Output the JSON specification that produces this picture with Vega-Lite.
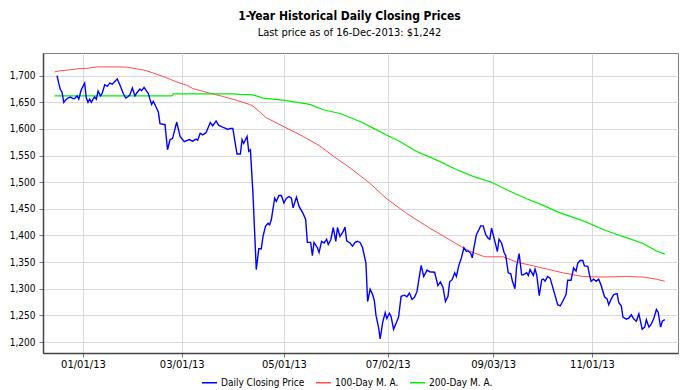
{
"$schema": "https://vega.github.io/schema/vega-lite/v6.json",
"width": 635, "height": 300,
"autosize": {"type": "none"},
"padding": {"left": 43, "top": 53, "right": 22, "bottom": 37},
"background": "white",
"title": {"text": "1-Year Historical Daily Closing Prices", "subtitle": "Last price as of 16-Dec-2013: $1,242", "font": "DejaVu Sans Condensed", "fontSize": 12, "fontWeight": "bold", "color": "#000", "subtitleFont": "DejaVu Sans Condensed", "subtitleFontSize": 11, "subtitleColor": "#000", "anchor": "middle", "dx": -11, "offset": 14, "subtitlePadding": 4},
"datasets": {
"close": [
{"d":"2012-12-16T12:00","p":1700},{"d":"2012-12-17T12:00","p":1686},{"d":"2012-12-18T12:00","p":1674},{"d":"2012-12-19T12:00","p":1669},{"d":"2012-12-20T12:00","p":1650},{"d":"2012-12-21T12:00","p":1654},{"d":"2012-12-23T00:00","p":1658},{"d":"2012-12-24T12:00","p":1660},{"d":"2012-12-26T00:00","p":1657},{"d":"2012-12-27T00:00","p":1657},{"d":"2012-12-28T12:00","p":1662},{"d":"2012-12-29T12:00","p":1656},{"d":"2012-12-31T00:00","p":1674},
{"d":"2013-01-01T00:00","p":1680},{"d":"2013-01-02T00:00","p":1686},{"d":"2013-01-03T00:00","p":1658},{"d":"2013-01-04T00:00","p":1650},{"d":"2013-01-05T00:00","p":1656},{"d":"2013-01-06T00:00","p":1650},{"d":"2013-01-07T00:00","p":1656},{"d":"2013-01-08T00:00","p":1660},{"d":"2013-01-09T00:00","p":1656},{"d":"2013-01-10T00:00","p":1671},{"d":"2013-01-11T12:00","p":1662},{"d":"2013-01-12T12:00","p":1667},{"d":"2013-01-14T00:00","p":1683},{"d":"2013-01-15T12:00","p":1680},{"d":"2013-01-17T00:00","p":1686},{"d":"2013-01-18T12:00","p":1684},{"d":"2013-01-20T00:00","p":1689},{"d":"2013-01-21T12:00","p":1694},{"d":"2013-01-23T00:00","p":1683},{"d":"2013-01-25T00:00","p":1667},{"d":"2013-01-26T12:00","p":1658},{"d":"2013-01-28T00:00","p":1661},{"d":"2013-01-29T00:00","p":1664},{"d":"2013-01-30T12:00","p":1677},
{"d":"2013-02-01T00:00","p":1662},{"d":"2013-02-02T00:00","p":1667},{"d":"2013-02-04T00:00","p":1675},{"d":"2013-02-05T00:00","p":1672},{"d":"2013-02-06T12:00","p":1678},{"d":"2013-02-08T00:00","p":1671},{"d":"2013-02-09T00:00","p":1667},{"d":"2013-02-10T00:00","p":1656},{"d":"2013-02-11T00:00","p":1646},{"d":"2013-02-12T00:00","p":1652},{"d":"2013-02-14T00:00","p":1639},{"d":"2013-02-15T00:00","p":1632},{"d":"2013-02-16T00:00","p":1610},{"d":"2013-02-19T00:00","p":1608},{"d":"2013-02-20T12:00","p":1561},{"d":"2013-02-22T00:00","p":1580},{"d":"2013-02-23T12:00","p":1582},{"d":"2013-02-26T00:00","p":1613},{"d":"2013-02-28T00:00","p":1586},
{"d":"2013-03-02T12:00","p":1576},{"d":"2013-03-05T12:00","p":1580},{"d":"2013-03-07T12:00","p":1577},{"d":"2013-03-09T12:00","p":1581},{"d":"2013-03-10T12:00","p":1579},{"d":"2013-03-12T00:00","p":1592},{"d":"2013-03-13T12:00","p":1589},{"d":"2013-03-15T12:00","p":1593},{"d":"2013-03-18T00:00","p":1612},{"d":"2013-03-19T12:00","p":1606},{"d":"2013-03-21T12:00","p":1615},{"d":"2013-03-23T00:00","p":1607},{"d":"2013-03-25T00:00","p":1604},{"d":"2013-03-26T12:00","p":1602},{"d":"2013-03-28T12:00","p":1599},{"d":"2013-03-30T00:00","p":1601},{"d":"2013-03-31T12:00","p":1601},
{"d":"2013-04-03T00:00","p":1553},{"d":"2013-04-05T00:00","p":1553},{"d":"2013-04-06T00:00","p":1580},{"d":"2013-04-07T00:00","p":1573},{"d":"2013-04-09T00:00","p":1586},{"d":"2013-04-10T00:00","p":1558},{"d":"2013-04-11T00:00","p":1561},{"d":"2013-04-12T12:00","p":1480},{"d":"2013-04-14T12:00","p":1336},{"d":"2013-04-16T00:00","p":1375},{"d":"2013-04-17T12:00","p":1375},{"d":"2013-04-18T12:00","p":1398},{"d":"2013-04-20T00:00","p":1417},{"d":"2013-04-21T12:00","p":1423},{"d":"2013-04-22T12:00","p":1420},{"d":"2013-04-23T12:00","p":1430},{"d":"2013-04-25T12:00","p":1470},{"d":"2013-04-26T12:00","p":1464},{"d":"2013-04-28T00:00","p":1475},{"d":"2013-04-29T12:00","p":1475},
{"d":"2013-05-01T00:00","p":1461},{"d":"2013-05-02T12:00","p":1470},{"d":"2013-05-04T00:00","p":1473},{"d":"2013-05-05T12:00","p":1470},{"d":"2013-05-06T12:00","p":1452},{"d":"2013-05-08T12:00","p":1472},{"d":"2013-05-10T00:00","p":1455},{"d":"2013-05-12T12:00","p":1441},{"d":"2013-05-14T00:00","p":1430},{"d":"2013-05-15T00:00","p":1387},{"d":"2013-05-17T00:00","p":1387},{"d":"2013-05-18T00:00","p":1362},{"d":"2013-05-19T00:00","p":1387},{"d":"2013-05-21T00:00","p":1377},{"d":"2013-05-22T00:00","p":1368},{"d":"2013-05-23T12:00","p":1389},{"d":"2013-05-25T00:00","p":1386},{"d":"2013-05-26T12:00","p":1393},{"d":"2013-05-27T12:00","p":1383},{"d":"2013-05-29T00:00","p":1392},{"d":"2013-05-30T12:00","p":1415},
{"d":"2013-06-01T00:00","p":1389},{"d":"2013-06-02T00:00","p":1415},{"d":"2013-06-03T12:00","p":1398},{"d":"2013-06-05T12:00","p":1408},{"d":"2013-06-06T12:00","p":1416},{"d":"2013-06-07T12:00","p":1390},{"d":"2013-06-09T12:00","p":1386},{"d":"2013-06-11T00:00","p":1380},{"d":"2013-06-12T12:00","p":1387},{"d":"2013-06-14T00:00","p":1389},{"d":"2013-06-15T12:00","p":1387},{"d":"2013-06-17T00:00","p":1377},{"d":"2013-06-19T00:00","p":1348},{"d":"2013-06-20T00:00","p":1276},{"d":"2013-06-21T12:00","p":1299},{"d":"2013-06-23T00:00","p":1289},{"d":"2013-06-24T00:00","p":1278},{"d":"2013-06-25T00:00","p":1250},{"d":"2013-06-26T12:00","p":1228},{"d":"2013-06-27T12:00","p":1206},{"d":"2013-06-29T00:00","p":1237},{"d":"2013-06-30T12:00","p":1255},
{"d":"2013-07-01T12:00","p":1244},{"d":"2013-07-03T00:00","p":1254},{"d":"2013-07-04T00:00","p":1248},{"d":"2013-07-05T12:00","p":1224},{"d":"2013-07-07T12:00","p":1239},{"d":"2013-07-08T12:00","p":1247},{"d":"2013-07-10T00:00","p":1286},{"d":"2013-07-12T00:00","p":1288},{"d":"2013-07-13T12:00","p":1285},{"d":"2013-07-15T00:00","p":1292},{"d":"2013-07-16T12:00","p":1280},{"d":"2013-07-18T00:00","p":1284},{"d":"2013-07-19T12:00","p":1295},{"d":"2013-07-21T00:00","p":1325},{"d":"2013-07-22T00:00","p":1344},{"d":"2013-07-23T12:00","p":1323},{"d":"2013-07-25T12:00","p":1335},{"d":"2013-07-27T00:00","p":1332},{"d":"2013-07-30T00:00","p":1331},
{"d":"2013-08-01T00:00","p":1306},{"d":"2013-08-02T12:00","p":1313},{"d":"2013-08-04T00:00","p":1303},{"d":"2013-08-05T12:00","p":1276},{"d":"2013-08-07T00:00","p":1286},{"d":"2013-08-08T00:00","p":1313},{"d":"2013-08-09T12:00","p":1317},{"d":"2013-08-11T00:00","p":1330},{"d":"2013-08-12T00:00","p":1323},{"d":"2013-08-13T12:00","p":1344},{"d":"2013-08-15T00:00","p":1358},{"d":"2013-08-16T12:00","p":1377},{"d":"2013-08-18T00:00","p":1370},{"d":"2013-08-19T00:00","p":1371},{"d":"2013-08-20T12:00","p":1367},{"d":"2013-08-21T12:00","p":1358},{"d":"2013-08-22T12:00","p":1377},{"d":"2013-08-24T00:00","p":1402},{"d":"2013-08-25T12:00","p":1411},{"d":"2013-08-26T12:00","p":1418},{"d":"2013-08-28T00:00","p":1418},{"d":"2013-08-29T12:00","p":1402},{"d":"2013-08-31T00:00","p":1395},
{"d":"2013-09-01T00:00","p":1393},{"d":"2013-09-02T00:00","p":1414},{"d":"2013-09-04T00:00","p":1389},{"d":"2013-09-05T12:00","p":1370},{"d":"2013-09-06T12:00","p":1393},{"d":"2013-09-08T00:00","p":1386},{"d":"2013-09-09T12:00","p":1368},{"d":"2013-09-10T12:00","p":1362},{"d":"2013-09-12T00:00","p":1330},{"d":"2013-09-13T12:00","p":1328},{"d":"2013-09-14T12:00","p":1314},{"d":"2013-09-16T00:00","p":1300},{"d":"2013-09-17T00:00","p":1342},{"d":"2013-09-18T12:00","p":1366},{"d":"2013-09-20T00:00","p":1326},{"d":"2013-09-21T00:00","p":1326},{"d":"2013-09-23T00:00","p":1330},{"d":"2013-09-24T00:00","p":1325},{"d":"2013-09-25T00:00","p":1336},{"d":"2013-09-27T00:00","p":1325},{"d":"2013-09-28T00:00","p":1337},{"d":"2013-09-29T00:00","p":1326},{"d":"2013-09-30T12:00","p":1287},
{"d":"2013-10-02T00:00","p":1317},{"d":"2013-10-03T00:00","p":1318},{"d":"2013-10-04T00:00","p":1314},{"d":"2013-10-05T12:00","p":1323},{"d":"2013-10-07T00:00","p":1320},{"d":"2013-10-09T00:00","p":1298},{"d":"2013-10-11T12:00","p":1270},{"d":"2013-10-13T00:00","p":1268},{"d":"2013-10-14T12:00","p":1276},{"d":"2013-10-16T12:00","p":1289},{"d":"2013-10-17T12:00","p":1316},{"d":"2013-10-19T12:00","p":1316},{"d":"2013-10-21T00:00","p":1339},{"d":"2013-10-22T12:00","p":1333},{"d":"2013-10-23T12:00","p":1348},{"d":"2013-10-25T00:00","p":1353},{"d":"2013-10-26T12:00","p":1353},{"d":"2013-10-27T12:00","p":1343},{"d":"2013-10-29T12:00","p":1342},{"d":"2013-10-30T12:00","p":1326},{"d":"2013-10-31T12:00","p":1314},
{"d":"2013-11-02T00:00","p":1318},{"d":"2013-11-03T12:00","p":1314},{"d":"2013-11-05T00:00","p":1318},{"d":"2013-11-06T12:00","p":1306},{"d":"2013-11-08T12:00","p":1285},{"d":"2013-11-10T00:00","p":1281},{"d":"2013-11-11T00:00","p":1270},{"d":"2013-11-12T12:00","p":1281},{"d":"2013-11-14T00:00","p":1289},{"d":"2013-11-16T00:00","p":1291},{"d":"2013-11-17T00:00","p":1274},{"d":"2013-11-18T12:00","p":1268},{"d":"2013-11-19T12:00","p":1247},{"d":"2013-11-21T12:00","p":1243},{"d":"2013-11-23T00:00","p":1245},{"d":"2013-11-24T12:00","p":1251},{"d":"2013-11-26T00:00","p":1243},{"d":"2013-11-27T12:00","p":1239},{"d":"2013-11-29T00:00","p":1253},
{"d":"2013-12-01T00:00","p":1224},{"d":"2013-12-02T12:00","p":1228},{"d":"2013-12-03T12:00","p":1242},{"d":"2013-12-05T00:00","p":1228},{"d":"2013-12-06T12:00","p":1234},{"d":"2013-12-08T00:00","p":1245},{"d":"2013-12-09T12:00","p":1261},{"d":"2013-12-10T12:00","p":1256},{"d":"2013-12-12T00:00","p":1228},{"d":"2013-12-13T00:00","p":1239},{"d":"2013-12-14T12:00","p":1242}
],
"ma100": [
{"d":"2012-12-15T00:00","p":1707},{"d":"2012-12-18T00:00","p":1709},{"d":"2012-12-24T00:00","p":1711},{"d":"2012-12-29T00:00","p":1713},{"d":"2013-01-04T00:00","p":1714},{"d":"2013-01-09T12:00","p":1716.5},{"d":"2013-01-19T00:00","p":1716.5},{"d":"2013-01-27T00:00","p":1716},{"d":"2013-02-02T00:00","p":1713},{"d":"2013-02-07T00:00","p":1710},{"d":"2013-02-12T00:00","p":1705},{"d":"2013-02-20T00:00","p":1696},{"d":"2013-02-23T00:00","p":1692},{"d":"2013-02-28T00:00","p":1686},{"d":"2013-03-04T00:00","p":1682},{"d":"2013-03-07T12:00","p":1676},{"d":"2013-03-15T12:00","p":1669},{"d":"2013-03-25T12:00","p":1661},{"d":"2013-04-02T12:00","p":1654},{"d":"2013-04-10T12:00","p":1646},{"d":"2013-04-12T12:00","p":1643},{"d":"2013-04-20T12:00","p":1621},{"d":"2013-04-30T12:00","p":1605},{"d":"2013-05-12T12:00","p":1586},{"d":"2013-05-22T12:00","p":1568},{"d":"2013-05-30T12:00","p":1549},{"d":"2013-06-09T12:00","p":1527},{"d":"2013-06-21T00:00","p":1499},{"d":"2013-07-01T00:00","p":1470},{"d":"2013-07-13T00:00","p":1442},{"d":"2013-07-27T00:00","p":1414},{"d":"2013-08-08T00:00","p":1392},{"d":"2013-08-16T00:00","p":1377},{"d":"2013-08-22T00:00","p":1368},{"d":"2013-08-29T00:00","p":1360},{"d":"2013-09-09T00:00","p":1360},{"d":"2013-09-17T00:00","p":1350},{"d":"2013-09-27T00:00","p":1343},{"d":"2013-10-05T00:00","p":1337},{"d":"2013-10-14T12:00","p":1330},{"d":"2013-10-26T12:00","p":1323},{"d":"2013-11-07T12:00","p":1322},{"d":"2013-11-21T12:00","p":1323},{"d":"2013-12-01T12:00","p":1322},{"d":"2013-12-09T12:00","p":1318},{"d":"2013-12-14T12:00","p":1314}
],
"ma200": [
{"d":"2012-12-15T00:00","p":1662},{"d":"2013-02-23T00:00","p":1662},{"d":"2013-02-24T00:00","p":1666},{"d":"2013-03-31T12:00","p":1666},{"d":"2013-04-04T12:00","p":1665},{"d":"2013-04-12T12:00","p":1664},{"d":"2013-04-18T12:00","p":1658},{"d":"2013-04-30T12:00","p":1654},{"d":"2013-05-16T12:00","p":1646},{"d":"2013-05-24T12:00","p":1636},{"d":"2013-06-03T12:00","p":1629},{"d":"2013-06-15T12:00","p":1614},{"d":"2013-06-23T00:00","p":1602},{"d":"2013-07-01T00:00","p":1589},{"d":"2013-07-09T00:00","p":1577},{"d":"2013-07-19T00:00","p":1558},{"d":"2013-07-31T00:00","p":1542},{"d":"2013-08-12T00:00","p":1524},{"d":"2013-08-22T00:00","p":1511},{"d":"2013-09-02T00:00","p":1500},{"d":"2013-09-13T00:00","p":1483},{"d":"2013-09-23T00:00","p":1469},{"d":"2013-10-02T12:00","p":1457},{"d":"2013-10-12T12:00","p":1443},{"d":"2013-10-26T12:00","p":1428},{"d":"2013-11-09T12:00","p":1409},{"d":"2013-11-21T12:00","p":1396},{"d":"2013-12-01T12:00","p":1385},{"d":"2013-12-09T12:00","p":1371},{"d":"2013-12-14T12:00","p":1365}
]
},
"encoding": {
"x": {"field": "d", "type": "temporal",
 "scale": {"domain": [{"year":2012,"month":12,"date":8,"hours":3},{"year":2013,"month":12,"date":22,"hours":9}]},
 "axis": {"title": null, "format": "%m/%d/%y", "values": [{"year":2013,"month":1,"date":1},{"year":2013,"month":3,"date":1},{"year":2013,"month":5,"date":1},{"year":2013,"month":7,"date":2},{"year":2013,"month":9,"date":3},{"year":2013,"month":11,"date":1}], "labelFont": "DejaVu Sans", "labelFontSize": 10, "labelPadding": 2, "labelFlush": false, "labelOverlap": false}},
"y": {"field": "p", "type": "quantitative",
 "scale": {"domain": [1179.4, 1742.6], "nice": false, "zero": false},
 "axis": {"title": null, "values": [1200,1250,1300,1350,1400,1450,1500,1550,1600,1650,1700], "format": ",d", "labelFont": "DejaVu Sans Condensed", "labelFontSize": 10, "labelPadding": 4}}
},
"layer": [
{"data": {"name": "ma100"}, "mark": {"type": "line", "strokeWidth": 1}, "encoding": {"color": {"datum": "100-Day M. A."}}},
{"data": {"name": "ma200"}, "mark": {"type": "line", "strokeWidth": 1.2}, "encoding": {"color": {"datum": "200-Day M. A."}}},
{"data": {"name": "close"}, "mark": {"type": "line", "strokeWidth": 1.4}, "encoding": {"color": {"datum": "Daily Closing Price", "scale": {"domain": ["Daily Closing Price", "100-Day M. A.", "200-Day M. A."], "range": ["#0000ff", "#ff4d4d", "#00ee00"]}, "legend": {"title": null, "orient": "none", "legendX": 158, "legendY": 321, "direction": "horizontal", "symbolType": "stroke", "symbolSize": 225, "symbolStrokeWidth": 1.5, "labelFont": "DejaVu Sans Condensed", "labelFontSize": 10, "labelColor": "#000", "columnPadding": 8, "labelOffset": 3}}}}
],
"config": {
 "view": {"stroke": "#808080", "strokeWidth": 1},
 "axis": {"grid": true, "gridColor": "#d9d9e0", "gridWidth": 1, "domainColor": "#444444", "domainWidth": 1.5, "tickColor": "#777777", "tickSize": 4, "labelColor": "#000000"}
}
}
